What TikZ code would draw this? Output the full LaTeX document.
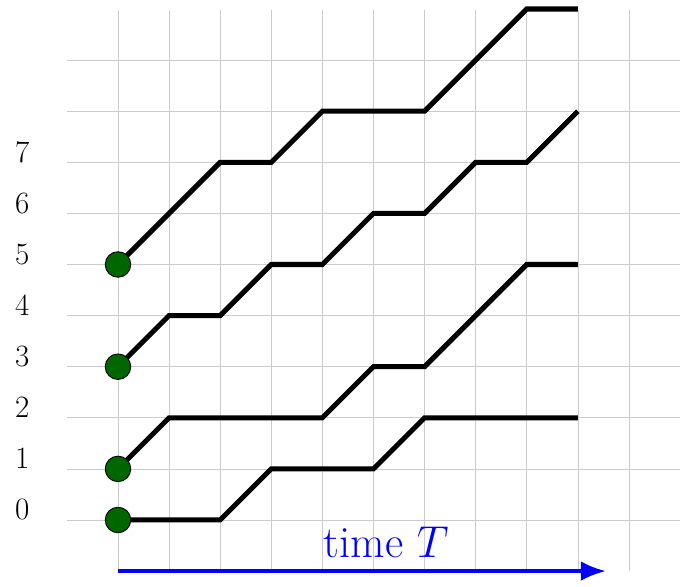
\documentclass[tikz,border=0pt]{standalone}
\usetikzlibrary{arrows.meta}
\begin{document}
\begin{tikzpicture}[
  gridline/.style={draw=gray!40, line width=0.4pt},
  walk/.style={line width=2.8pt, black},
  startdot/.style={circle, fill=green!40!black, draw=black, line width=0.5pt, minimum size=0.5cm, inner sep=0pt},
  levellabel/.style={anchor=base, font=\LARGE, inner sep=0pt},
  timearrow/.style={blue, line width=2pt, -{Latex[length=14pt,width=11pt]}}
]
\useasboundingbox (-2.309,-1.292) rectangle (11.155,10.176);
\draw[gridline] (-0.99,-0.99) grid (10.99,9.98);
% level labels
\foreach \i in {0,...,7} {
  \node[levellabel] (lab\i) at (-1.875,\i) {\i};
}
% walks
\draw[walk] (0,0) -- (2,0) -- (3,1) -- (5,1) -- (6,2) -- (9,2);
\draw[walk] (0,1) -- (1,2) -- (4,2) -- (5,3) -- (6,3) -- (8,5) -- (9,5);
\draw[walk] (0,3) -- (1,4) -- (2,4) -- (3,5) -- (4,5) -- (5,6) -- (6,6) -- (7,7) -- (8,7) -- (9,8);
\draw[walk] (0,5) -- (2,7) -- (3,7) -- (4,8) -- (6,8) -- (8,10) -- (9,10);
% start dots
\node[startdot] (s0) at (0,0) {};
\node[startdot] (s1) at (0,1) {};
\node[startdot] (s3) at (0,3) {};
\node[startdot] (s5) at (0,5) {};
% time arrow
\coordinate (tstart) at (0,-1.0);
\coordinate (tend) at (9.55,-1.0);
\draw[timearrow] (tstart) -- (tend);
\node[anchor=base, blue, font=\Huge, inner sep=0pt] (tlabel) at (5.25,-0.74) {time $T$};
\end{tikzpicture}
\end{document}
